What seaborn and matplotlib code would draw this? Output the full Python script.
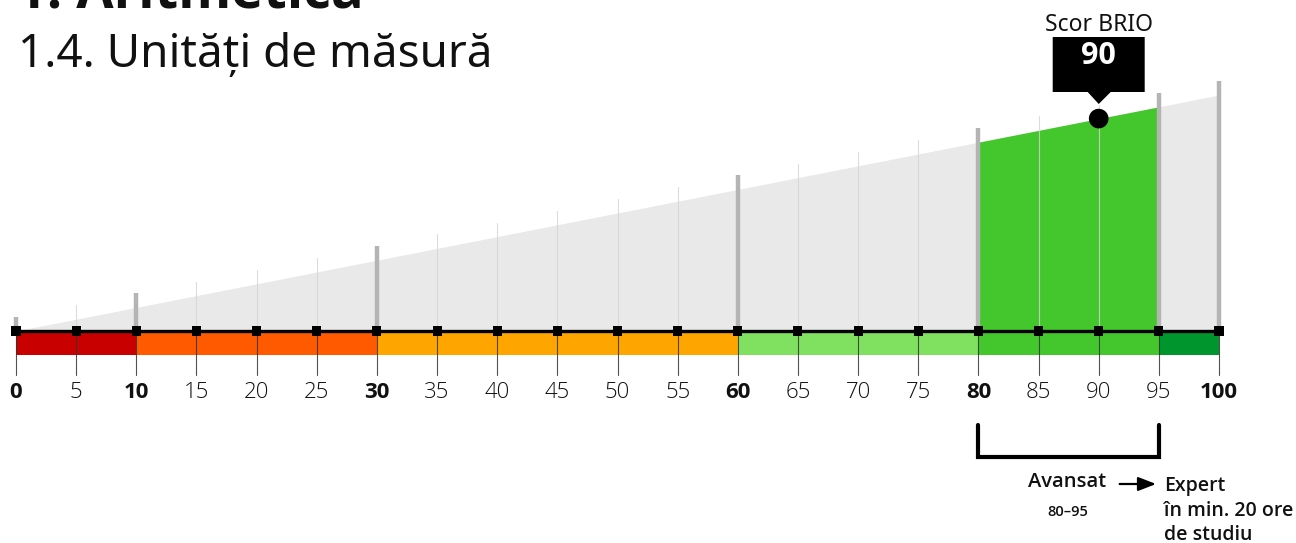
import numpy as np
import pandas as pd
import seaborn as sns
import matplotlib.pyplot as plt
from matplotlib.patches import Polygon, Rectangle

# scale values and bands
ticks = list(range(0, 101, 5))
thick_ticks = [0, 10, 30, 60, 80, 95, 100]
bold_ticks = [0, 10, 30, 60, 80, 100]
band_edges = [0, 10, 30, 60, 80, 95, 100]
band_colors = ['#c80000', '#ff5a00', '#ffa500', '#80e060', '#44c72c', '#00962d']
level_lo, level_hi = 80, 95
score = 90
score_label = 'Scor BRIO'
level_name = 'Avansat'
level_range = '80–95'
next_level = 'Expert\nîn min. 20 ore\nde studiu'
chapter = '1. Aritmetică'
title = '1.4. Unități de măsură'

# layout (pixels per scale unit etc.)
W, H = 1296, 543
X0, X100 = 16, 1219
AXIS_Y = 331
ppu = (X100 - X0) / 100.0
rise = 2.36          # wedge height per unit
over = 14            # gray lines above wedge

sns.set_theme(style='white')
plt.rcParams['font.family'] = ['Open Sans', 'DejaVu Sans']
noto = ['Noto Sans', 'DejaVu Sans']

fig = plt.figure(figsize=(W / 100, H / 100), dpi=100)
ax = fig.add_axes([0, 0, 1, 1])
ax.set_xlim(-X0 / ppu, (W - X0) / ppu)
ax.set_ylim(-(H - AXIS_Y), AXIS_Y)
ax.axis('off')

xs = np.array([0, 100])
ax.fill_between(xs, 0, rise * xs, color='#e9e9e9', lw=0, zorder=1)
gx = np.array([level_lo, level_hi])
ax.fill_between(gx, 0, rise * gx, color='#44c72c', lw=0, zorder=2)

# vertical lines above axis
for t in ticks:
    if t in thick_ticks:
        ax.plot([t, t], [0, rise * t + over], color='#b4b4b4', lw=3.2, zorder=3,
                solid_capstyle='butt')
    else:
        ax.plot([t, t], [0, rise * t + over], color='#d4d4d4', lw=0.8, zorder=3,
                alpha=0.8)

# colour bands
for i in range(len(band_colors)):
    a, b = band_edges[i], band_edges[i + 1]
    ax.add_patch(Rectangle((a, -24), b - a, 24, color=band_colors[i], lw=0, zorder=2))

# tick lines below
for t in ticks:
    ax.plot([t, t], [0, -44], color='#333333', lw=0.8, zorder=4, alpha=0.85)

# axis line and markers
ax.plot([0, 100], [0, 0], color='black', lw=2.4, zorder=5)
df = pd.DataFrame({'x': ticks, 'y': [0] * len(ticks)})
sns.scatterplot(data=df, x='x', y='y', marker='s', s=42, color='black',
                edgecolor='none', ax=ax, zorder=6)

for t in ticks:
    ax.text(t, -61, str(t), ha='center', va='center', fontsize=16,
            fontweight='bold' if t in bold_ticks else 'light', color='#111111')

# score marker
sns.scatterplot(x=[score], y=[rise * score], s=200, color='black',
                edgecolor='none', ax=ax, zorder=7)
bw = 92 / ppu
ax.add_patch(Polygon([(score - bw / 2, AXIS_Y - 37), (score + bw / 2, AXIS_Y - 37),
                      (score + bw / 2, AXIS_Y - 92), (score + 12 / ppu, AXIS_Y - 92),
                      (score, AXIS_Y - 104), (score - 11 / ppu, AXIS_Y - 92),
                      (score - bw / 2, AXIS_Y - 92)],
                     closed=True, color='black', lw=0, zorder=7))
ax.text(score, AXIS_Y - 56, str(score), ha='center', va='center', color='white',
        fontsize=22, fontweight='bold', zorder=8)
ax.text(score, AXIS_Y - 25, score_label, ha='center', va='center', fontsize=16.5,
        family=noto, color='#111111')

# bracket for level
ax.plot([level_lo, level_lo, level_hi, level_hi], [-94, -126, -126, -94],
        color='black', lw=3, solid_joinstyle='miter', zorder=5)
mid = (level_lo + level_hi) / 2
ax.text(mid - 0.1, -151, level_name, ha='center', va='center', fontsize=14.5,
        fontweight='semibold', color='#111111')
ax.text(mid - 0.1, -181, level_range, ha='center', va='center', fontsize=10.5,
        fontweight='semibold', color='#111111')
ax.annotate('', xy=(level_hi, -153), xytext=(level_hi - 42 / ppu, -153),
            arrowprops=dict(arrowstyle='-|>,head_length=0.9,head_width=0.35',
                            color='black', lw=1.6))
ax.text(level_hi + 0.4, -145, next_level, ha='left', va='top', fontsize=14,
        fontweight='semibold', color='#111111', linespacing=1.3)

# titles
fig.text(18 / W, 1 - 67 / H, title, ha='left', va='baseline', fontsize=33,
         family=noto, color='#111111')
fig.text(16 / W, 1 - 7 / H, chapter, ha='left', va='baseline', fontsize=39,
         fontweight='bold', color='#111111')

fig.savefig('out.png', dpi=100)
